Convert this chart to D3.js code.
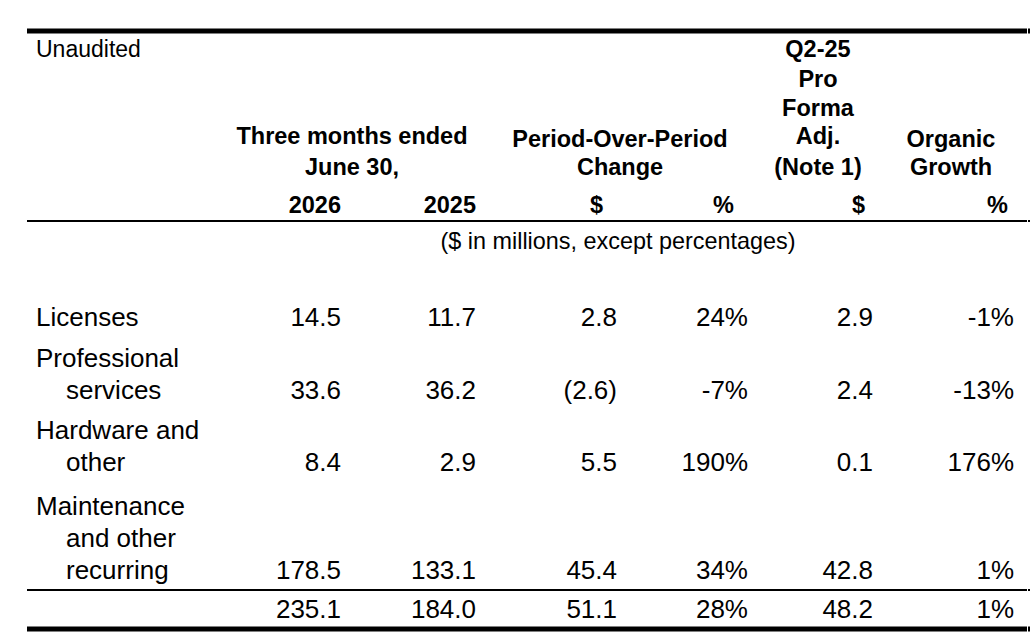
<!DOCTYPE html>
<html>
<head>
<meta charset="utf-8">
<script src="https://cdn.jsdelivr.net/npm/d3@7"></script>
<style>
  body { margin: 0; background: #fff; }
  text { font-family: "Liberation Sans", Arial, sans-serif; fill: #000; }
</style>
</head>
<body>
<svg id="chart" width="1030" height="642"></svg>
<script>
// Row labels (each entry = wrapped lines) and column values
var labels = [["Licenses"], ["Professional", "services"], ["Hardware and", "other"], ["Maintenance", "and other", "recurring"], [""]];
var val2026 = ["14.5", "33.6", "8.4", "178.5", "235.1"];
var val2025 = ["11.7", "36.2", "2.9", "133.1", "184.0"];
var chgDollar = ["2.8", "(2.6)", "5.5", "45.4", "51.1"];
var chgPct = ["24%", "-7%", "190%", "34%", "28%"];
var proForma = ["2.9", "2.4", "0.1", "42.8", "48.2"];
var organic = ["-1%", "-13%", "176%", "1%", "1%"];

var columns = [val2026, val2025, chgDollar, chgPct, proForma, organic];
var colRight = [341, 476, 617, 748, 873, 1014];   // right edges of value columns
var rowBaseline = [326, 399, 471, 579, 618];       // baseline of last line of each row
var lineGap = 32;

var svg = d3.select("#chart");

// rules
function rule(y, w) {
  svg.append("rect").attr("x", 27).attr("y", y - w / 2).attr("width", 1000).attr("height", w).attr("fill", "#000");
  svg.append("rect").attr("x", 1028).attr("y", y - w / 2).attr("width", 2).attr("height", w).attr("fill", "#000");
}
rule(31, 5);
rule(221, 2);
rule(590, 2);
rule(629, 5);

function txt(x, y, s, anchor, bold, size) {
  svg.append("text").attr("x", x).attr("y", y).attr("text-anchor", anchor || "start")
    .attr("font-size", size || (bold ? 23.5 : 26)).attr("font-weight", bold ? "bold" : "normal").text(s);
}

// header
txt(36, 57, "Unaudited", "start", false, 23);
["Q2-25", "Pro", "Forma", "Adj.", "(Note 1)"].forEach(function(s, i) {
  txt(818, [57, 87, 116, 144, 175][i], s, "middle", true);
});
txt(352, 144, "Three months ended", "middle", true);
txt(352, 175, "June 30,", "middle", true);
txt(620, 147, "Period-Over-Period", "middle", true);
txt(620, 175, "Change", "middle", true);
txt(951, 147, "Organic", "middle", true);
txt(951, 175, "Growth", "middle", true);
var colHeads = ["2026", "2025", "$", "%", "$", "%"];
var headRight = [341, 476, 603, 734, 865, 1008];
colHeads.forEach(function(s, i) { txt(headRight[i], 213, s, "end", true); });
txt(618, 249, "($ in millions, except percentages)", "middle", false, 23.4);

// body
labels.forEach(function(lines, r) {
  var n = lines.length;
  lines.forEach(function(s, k) {
    var y = rowBaseline[r] - (n - 1 - k) * lineGap;
    txt(k === 0 ? 36 : 66, y, s, "start", false);
  });
  columns.forEach(function(col, c) {
    txt(colRight[c], rowBaseline[r], col[r], "end", false);
  });
});
</script>
</body>
</html>
